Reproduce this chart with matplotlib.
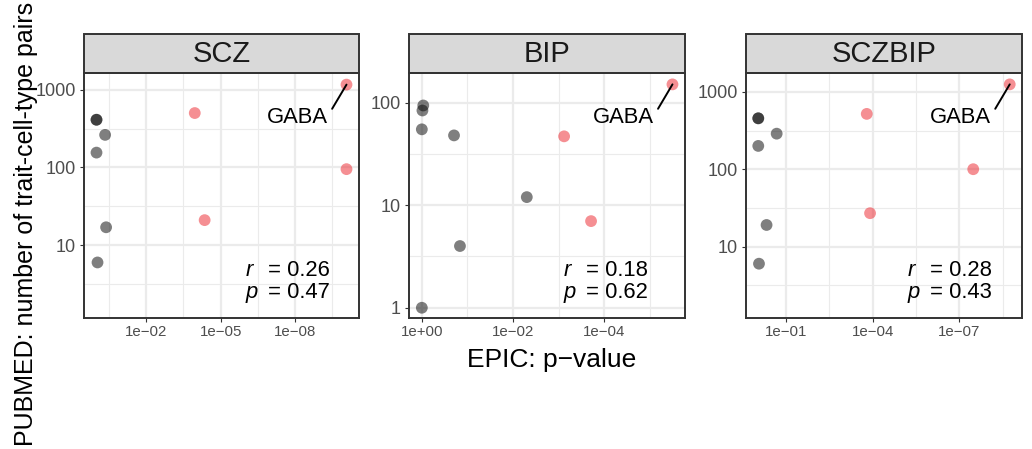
import numpy as np
import matplotlib
matplotlib.use('Agg')
import matplotlib.pyplot as plt
from matplotlib.patches import Rectangle
from matplotlib.ticker import FixedLocator, FixedFormatter, NullFormatter

plt.rcParams['font.family'] = ['Liberation Sans', 'DejaVu Sans']
plt.rcParams['mathtext.fontset'] = 'custom'
plt.rcParams['mathtext.it'] = 'Liberation Sans:italic'
plt.rcParams['mathtext.rm'] = 'Liberation Sans'

# ---------------- data ----------------
traits = ['SCZ', 'BIP', 'SCZBIP']

scz_pvalue = [1.0, 1.0, 0.45, 1.0, 0.41, 0.91, 1.1e-4, 4.4e-5, 8.5e-11, 8.5e-11]
scz_pubmed = [410, 410, 262, 155, 17, 6, 500, 21, 1160, 95]
scz_signif = [False, False, False, False, False, False, True, True, True, True]
scz_label = ['', '', '', '', '', '', '', '', 'GABA', '']

bip_pvalue = [0.93, 0.97, 1.0, 0.197, 0.005, 0.146, 1.0, 7.6e-4, 1.95e-4, 3.2e-6]
bip_pubmed = [94, 84, 55, 48, 12, 4, 1, 47, 7, 151]
bip_signif = [False, False, False, False, False, False, False, True, True, True]
bip_label = ['', '', '', '', '', '', '', '', '', 'GABA']

sczbip_pvalue = [0.91, 0.91, 0.21, 0.91, 0.47, 0.86, 1.6e-4, 1.23e-4, 3.3e-8, 1.8e-9]
sczbip_pubmed = [455, 455, 288, 200, 19, 6, 519, 27, 100, 1250]
sczbip_signif = [False, False, False, False, False, False, True, True, True, True]
sczbip_label = ['', '', '', '', '', '', '', '', '', 'GABA']

r_values = ['0.26', '0.18', '0.28']
p_values = ['0.47', '0.62', '0.43']

scz_xticks = [1e-2, 1e-5, 1e-8]
scz_xticklabels = ['1e\u221202', '1e\u221205', '1e\u221208']
bip_xticks = [1.0, 1e-2, 1e-4]
bip_xticklabels = ['1e+00', '1e\u221202', '1e\u221204']
sczbip_xticks = [1e-1, 1e-4, 1e-7]
sczbip_xticklabels = ['1e\u221201', '1e\u221204', '1e\u221207']

scz_yticks = [10, 100, 1000]
bip_yticks = [1, 10, 100]
sczbip_yticks = [10, 100, 1000]
ytick_labels = {1: '1', 10: '10', 100: '100', 1000: '1000'}

# y limits (log10) as displayed
ylims_log = [(0.064, 3.21), (-0.10, 2.287), (0.076, 3.24)]

panels = [
    (scz_pvalue, scz_pubmed, scz_signif, scz_label, scz_xticks, scz_xticklabels, scz_yticks),
    (bip_pvalue, bip_pubmed, bip_signif, bip_label, bip_xticks, bip_xticklabels, bip_yticks),
    (sczbip_pvalue, sczbip_pubmed, sczbip_signif, sczbip_label, sczbip_xticks, sczbip_xticklabels, sczbip_yticks),
]

# ---------------- layout ----------------
W, H = 1032, 449
fig = plt.figure(figsize=(W / 100, H / 100), dpi=100)
ax_lefts = [84, 409.3, 745.7]
ax_rights = [359, 685, 1022.3]
ax_top, ax_bot = 73.3, 318
rp_xfrac = [0.585, 0.558, 0.584]

GRID = '#EBEBEB'
DARK = '#333333'
col_grey = '#000000'
col_red = '#EC2028'


def minor_locs(majors):
    lg = np.log10(majors)
    step = abs(lg[1] - lg[0])
    lo, hi = lg.min() - step, lg.max() + step
    mids = np.arange(lo + step / 2, hi, step)
    return 10 ** mids


for k, (pv, nv, sg, lab, xt, xtl, yt) in enumerate(panels):
    l, r = ax_lefts[k], ax_rights[k]
    ax = fig.add_axes([l / W, (H - ax_bot) / H, (r - l) / W, (ax_bot - ax_top) / H])
    ax.set_xscale('log')
    ax.set_yscale('log')
    pv = np.array(pv)
    nv = np.array(nv)
    sg = np.array(sg)

    # x limits: 5% expansion in log space, reversed
    lx = -np.log10(pv)
    span = lx.max() - lx.min()
    ax.set_xlim(10 ** -(lx.min() - 0.05 * span), 10 ** -(lx.max() + 0.05 * span))
    y0, y1 = ylims_log[k]
    ax.set_ylim(10 ** y0, 10 ** y1)

    ax.xaxis.set_major_locator(FixedLocator(xt))
    ax.xaxis.set_major_formatter(FixedFormatter(xtl))
    ax.xaxis.set_minor_locator(FixedLocator(minor_locs(np.array(xt))))
    ax.xaxis.set_minor_formatter(NullFormatter())
    ax.yaxis.set_major_locator(FixedLocator(yt))
    ax.yaxis.set_major_formatter(FixedFormatter([ytick_labels[v] for v in yt]))
    ax.yaxis.set_minor_locator(FixedLocator(minor_locs(np.array(yt, dtype=float))))
    ax.yaxis.set_minor_formatter(NullFormatter())

    ax.grid(which='major', color=GRID, lw=1.6)
    ax.grid(which='minor', color=GRID, lw=0.8)
    ax.set_axisbelow(True)
    ax.tick_params(which='minor', length=0)
    ax.tick_params(which='major', length=2.9, width=0.8, color=DARK, colors='#4D4D4D')
    ax.tick_params(axis='x', which='major', labelsize=10.8, pad=2.5, labelcolor='#4D4D4D')
    ax.tick_params(axis='y', which='major', labelsize=13, pad=3.0, labelcolor='#4D4D4D')
    for s in ax.spines.values():
        s.set_color(DARK)
        s.set_linewidth(1.4)
        s.set_zorder(5)

    ax.scatter(pv[~sg], nv[~sg], s=72, color=col_grey, alpha=0.5, edgecolors='none', zorder=3)
    ax.scatter(pv[sg], nv[sg], s=72, color=col_red, alpha=0.5, edgecolors='none', zorder=3)

    for i, t in enumerate(lab):
        if t:
            ax.annotate(t, xy=(pv[i], nv[i]), xycoords='data',
                        xytext=(0.887, 0.795), textcoords='axes fraction',
                        ha='right', va='baseline', fontsize=15.8, color='black', zorder=6,
                        arrowprops=dict(arrowstyle='-', color='black', lw=1.4,
                                        shrinkA=2, shrinkB=0, relpos=(1.0, 0.6)))

    # correlation annotation
    axw = r - l
    xf = rp_xfrac[k]
    off = 23 / axw
    ax.text(xf, 0.1714, r'$\mathit{r}$', transform=ax.transAxes, ha='left', va='baseline', fontsize=15.8)
    ax.text(xf + off, 0.1714, '= ' + r_values[k], transform=ax.transAxes, ha='left', va='baseline', fontsize=15.8)
    ax.text(xf, 0.0804, r'$\mathit{p}$', transform=ax.transAxes, ha='left', va='baseline', fontsize=15.8)
    ax.text(xf + off, 0.0804, '= ' + p_values[k], transform=ax.transAxes, ha='left', va='baseline', fontsize=15.8)

    # facet strip
    sh = 39.3 / (ax_bot - ax_top)
    ax.add_patch(Rectangle((0, 1), 1, sh, transform=ax.transAxes, clip_on=False,
                           facecolor='#D9D9D9', edgecolor=DARK, lw=1.4, zorder=5))
    ax.text(0.5, 1 + sh / 2, traits[k], transform=ax.transAxes, ha='center', va='center',
            fontsize=21, color='#1A1A1A', zorder=6)

fig.text(551.7 / W, (H - 366.7) / H, 'EPIC: p\u2212value', ha='center', va='baseline', fontsize=19)
fig.text(33.5 / W, (H - 224) / H, 'PUBMED: number of trait-cell-type pairs', rotation=90,
         rotation_mode='anchor', ha='center', va='baseline', fontsize=18)

fig.savefig('out.png', dpi=100)
